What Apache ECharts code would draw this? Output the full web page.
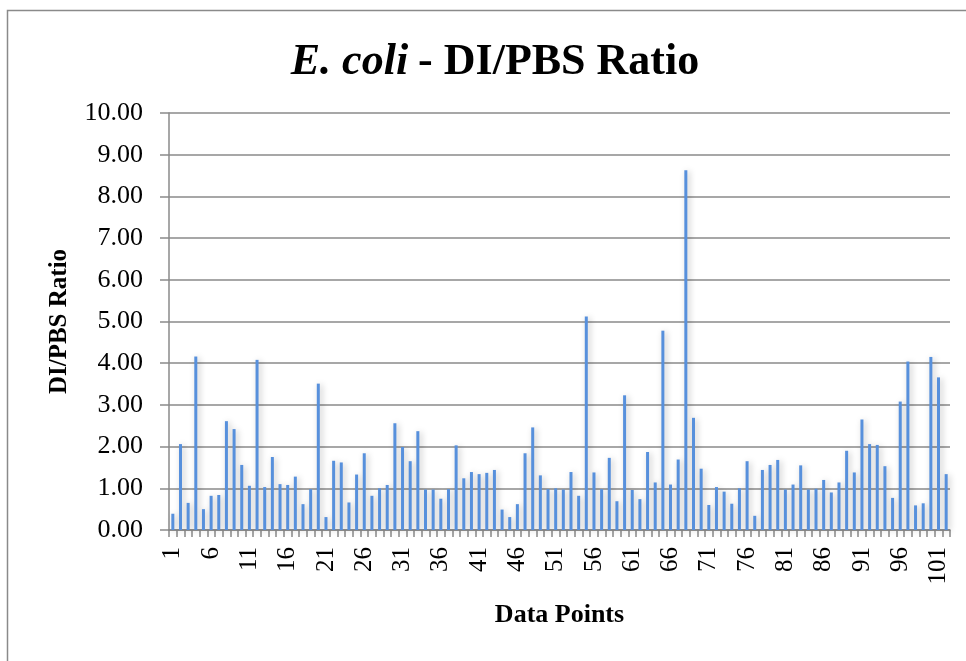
<!DOCTYPE html>
<html>
<head>
<meta charset="utf-8">
<script src="https://cdn.jsdelivr.net/npm/echarts@6/dist/echarts.min.js"></script>
<style>
  html, body { margin: 0; padding: 0; background: #fff; }
  #main { width: 966px; height: 661px; }
</style>
</head>
<body>
<div id="main"></div>
<script>
// data
const points = [];
for (let i = 1; i <= 102; i++) points.push(String(i));

const ratios = [
  0.39, 2.06, 0.65, 4.16, 0.50, 0.82, 0.84, 2.61, 2.42, 1.56,
  1.06, 4.08, 1.03, 1.75, 1.10, 1.08, 1.28, 0.62, 0.98, 3.51,
  0.31, 1.66, 1.62, 0.66, 1.33, 1.84, 0.82, 1.00, 1.08, 2.56,
  1.99, 1.65, 2.37, 0.97, 0.97, 0.75, 0.98, 2.03, 1.24, 1.39,
  1.34, 1.37, 1.44, 0.49, 0.31, 0.62, 1.84, 2.46, 1.31, 0.98,
  1.00, 0.97, 1.39, 0.82, 5.12, 1.38, 0.98, 1.73, 0.69, 3.23,
  0.96, 0.74, 1.87, 1.14, 4.78, 1.09, 1.69, 8.63, 2.69, 1.47,
  0.60, 1.03, 0.92, 0.63, 1.00, 1.65, 0.34, 1.44, 1.56, 1.68,
  0.97, 1.09, 1.55, 0.97, 0.99, 1.20, 0.90, 1.14, 1.90, 1.38,
  2.65, 2.06, 2.04, 1.53, 0.77, 3.08, 4.04, 0.59, 0.64, 4.15,
  3.66, 1.34
];

const font = '"Liberation Serif", "DejaVu Serif", serif';
const gray = "#8a8a8a";

let chartDom = document.getElementById("main");
let myChart = echarts.init(chartDom);
let option = {
  animation: false,
  backgroundColor: "#fff",
  graphic: [
    {
      type: "rect",
      shape: { x: 7.5, y: 10.5, width: 980, height: 680 },
      style: { fill: "none", stroke: gray, lineWidth: 1.5 },
      silent: true,
    },
  ],
  title: {
    text: "{i|E. coli}  {b|- DI/PBS Ratio}",
    left: 490,
    top: 36,
    textAlign: "center",
    textStyle: {
      rich: {
        i: { fontFamily: font, fontSize: 44, fontWeight: "bold", fontStyle: "italic", color: "#000" },
        b: { fontFamily: font, fontSize: 44, fontWeight: "bold", color: "#000" },
      },
    },
  },
  grid: {
    left: 169,
    right: 16,
    top: 113,
    bottom: 131,
  },
  xAxis: {
    type: "category",
    data: points,
    boundaryGap: true,
    name: "Data Points",
    nameLocation: "middle",
    nameGap: 72,
    nameTextStyle: { fontFamily: font, fontSize: 26, fontWeight: "bold", color: "#000" },
    axisLine: { lineStyle: { color: gray, width: 1.5 } },
    axisTick: { show: true, interval: 0, length: 7, lineStyle: { color: gray, width: 1.5 } },
    axisLabel: {
      interval: 4,
      rotate: 90,
      margin: 17,
      fontFamily: font,
      fontSize: 25,
      color: "#000",
    },
  },
  yAxis: {
    type: "value",
    min: 0,
    max: 10,
    interval: 1,
    name: "DI/PBS Ratio",
    nameLocation: "middle",
    nameGap: 97,
    nameTextStyle: { fontFamily: font, fontSize: 25, fontWeight: "bold", color: "#000" },
    axisLine: { show: true, lineStyle: { color: gray, width: 1.5 } },
    axisTick: { show: true, length: 9, lineStyle: { color: gray, width: 1.5 } },
    splitLine: { lineStyle: { color: gray, width: 1.5 } },
    axisLabel: {
      margin: 26,
      fontFamily: font,
      fontSize: 26,
      color: "#000",
      formatter: (v) => v.toFixed(2),
    },
  },
  series: [
    {
      name: "DI/PBS Ratio",
      type: "bar",
      barWidth: 3,
      data: ratios,
      itemStyle: {
        color: "#5790dc",
        shadowColor: "rgba(0,0,0,0.25)",
        shadowBlur: 6,
        shadowOffsetX: 2,
        shadowOffsetY: 1,
      },
    },
  ],
};
option && myChart.setOption(option);
</script>
</body>
</html>
